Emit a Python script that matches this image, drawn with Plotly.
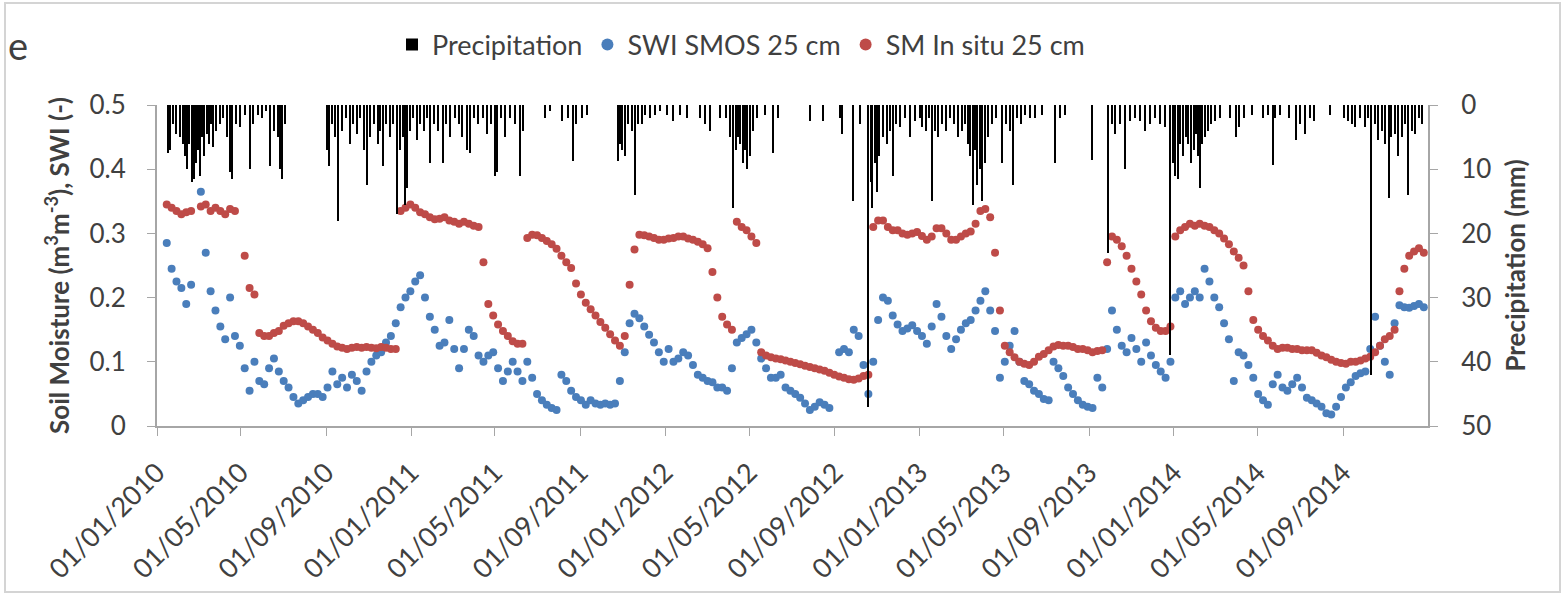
import pandas as pd
import plotly.graph_objects as go

# ---------------- data ----------------
series_start = "2010-01-01"   # weekly samples
sm_insitu_25cm = [
    None, None, .345, .34, .335, .33, .333, .335, None, .342,
    .345, .335, .34, .335, .33, .338, .335, None, .265, .215,
    .205, .145, .14, .14, .145, .148, .156, .16, .163, .163,
    .16, .155, .15, .145, .138, .133, .128, .124, .122, .12,
    .122, .123, .122, .123, .122, .121, .123, .122, .12, .12,
    .335, .34, .345, .34, .333, .33, .325, .322, .323, .325,
    .32, .318, .315, .318, .315, .312, .31, .255, .19, .172,
    .158, .148, .14, .132, .128, .128, .293, .298, .297, .293,
    .288, .283, .276, .265, .255, .246, .222, .205, .192, .182,
    .172, .162, .153, .143, .133, .125, .14, .22, .275, .298,
    .297, .295, .293, .29, .29, .292, .293, .295, .295, .292,
    .29, .287, .283, .277, .24, .2, .17, .158, .15, .318,
    .31, .305, .295, .285, .115, .11, .107, .105, .104, .102,
    .1, .098, .096, .094, .092, .09, .088, .086, .083, .08,
    .077, .075, .073, .072, .074, .078, .08, .31, .32, .32,
    .31, .305, .305, .3, .298, .3, .302, .296, .29, .295,
    .308, .308, .3, .29, .29, .295, .3, .303, .315, .335,
    .338, .325, .27, .18, .125, .115, .107, .1, .097, .095,
    .1, .108, .112, .118, .124, .126, .125, .125, .123, .12,
    .12, .118, .115, .117, .118, .255, .295, .29, .28, .265,
    .245, .225, .205, .18, .163, .153, .148, .148, .155, .295,
    .305, .31, .315, .312, .315, .312, .31, .305, .3, .292,
    .283, .272, .262, .25, .21, .165, .15, .14, .133, .125,
    .12, .122, .122, .12, .12, .118, .118, .118, .114, .11,
    .107, .103, .1, .098, .097, .1, .1, .102, .105, .108,
    .115, .125, .135, .14, .15, .21, .245, .265, .272, .277,
    .27,
]
swi_smos_25cm = [
    None, None, .285, .245, .225, .215, .19, .22, None, .365,
    .27, .21, .18, .155, .135, .2, .14, .125, .09, .055,
    .1, .07, .065, .09, .105, .085, .07, .06, .045, .035,
    .04, .045, .05, .05, .045, .06, .085, .065, .075, .06,
    .08, .07, .055, .085, .1, .11, .115, .13, .14, .16,
    .185, .2, .21, .225, .235, .2, .17, .15, .125, .13,
    .165, .12, .09, .12, .15, .14, .11, .1, .11, .115,
    .09, .07, .085, .1, .085, .07, .1, .075, .05, .04,
    .033, .028, .025, .08, .07, .055, .045, .04, .033, .04,
    .035, .033, .035, .033, .035, .07, .115, .16, .175, .168,
    .155, .142, .13, .115, .1, .12, .1, .105, .115, .11,
    .095, .08, .075, .07, .068, .06, .06, .055, .09, .13,
    .137, .143, .15, .13, .105, .09, .075, .075, .08, .06,
    .055, .05, .044, .035, .025, .03, .037, .033, .028, None,
    .115, .12, .115, .15, .14, .095, .05, .1, .165, .2,
    .195, .172, .158, .148, .152, .157, .148, .14, .128, .155,
    .19, .17, .14, .12, .135, .15, .16, .165, .18, .195,
    .21, .18, .148, .075, .1, .125, .148, .1, .07, .065,
    .055, .05, .042, .04, .1, .09, .078, .06, .05, .04,
    .033, .03, .028, .075, .06, .12, .18, .15, .125, .115,
    .137, .12, .1, .13, .11, .095, .085, .075, .1, .2,
    .21, .19, .2, .21, .2, .245, .225, .2, .185, .16,
    .135, .07, .115, .11, .095, .075, .05, .04, .033, .065,
    .08, .06, .055, .065, .075, .06, .044, .04, .035, .03,
    .02, .018, .03, .045, .06, .068, .078, .082, .085, .12,
    .17, .125, .1, .08, .16, .188, .185, .184, .187, .19,
    .185,
]
# precipitation events: day offset since 2010-01-01, depth in mm
precip_day = [
    16, 19, 23, 27, 33, 37, 40, 43, 46, 50, 53, 56, 59, 62, 65, 68, 72, 75, 78, 80,
    85, 91, 95, 101, 105, 108, 113, 119, 126, 134, 138, 145, 151, 157, 162, 168, 174, 177, 180, 184,
    244, 247, 251, 256, 260, 266, 272, 277, 282, 287, 292, 297, 302, 306, 312, 317, 320, 325, 329, 335,
    339, 345, 349, 353, 356, 359, 363, 368, 374, 378, 384, 388, 392, 398, 404, 411, 415, 421, 428, 434,
    438, 445, 450, 455, 461, 468, 474, 480, 486, 488, 494, 500, 507, 514, 521, 526,
    557, 565, 582, 590, 598, 602, 611, 618, 662, 665, 668, 672, 677, 682, 687, 691, 697, 701, 708, 715,
    723, 733, 741, 751, 761, 780, 787, 794, 809,
    817, 823, 827, 832, 835, 838, 842, 845, 848, 852, 856, 862, 873, 885, 892, 938, 957, 981, 984, 1000,
    1010, 1021, 1026, 1028, 1031, 1034, 1038, 1043, 1049, 1053, 1057, 1062, 1067, 1075, 1082, 1089,
    1096, 1099, 1105, 1109, 1113, 1118, 1122, 1128, 1133, 1139, 1145, 1151, 1156, 1161, 1165, 1168, 1172, 1175, 1178, 1182,
    1185, 1190, 1194, 1200, 1205, 1214, 1220, 1225, 1230, 1235, 1241, 1247, 1254, 1261, 1271, 1290, 1297, 1304, 1343, 1366,
    1372, 1376, 1383, 1391, 1398, 1405, 1412, 1419, 1427, 1434, 1441, 1448, 1455, 1460, 1463,
    1467, 1470, 1474, 1479, 1481, 1486, 1490, 1493, 1496, 1499, 1501, 1506, 1510, 1514, 1520, 1527, 1542, 1551, 1555, 1562,
    1573, 1589, 1597, 1603, 1607, 1613, 1627, 1636, 1642, 1649, 1656, 1663, 1685, 1706, 1711, 1717, 1722, 1729, 1736, 1740,
    1744, 1750, 1755, 1760, 1764, 1770, 1773, 1779, 1783, 1789, 1793, 1798, 1803, 1807, 1813, 1817,
]
precip_mm = [
    7.5, 7, 3, 4.5, 5, 6, 8, 10, 6, 12, 11.5, 9, 7, 11, 5, 8, 4.5, 6, 3, 6.5,
    4, 3, 2, 5, 10.5, 11.5, 3, 3.5, 1.5, 10, 3, 1.5, 2, 1, 9.5, 4, 5, 10, 11.5, 3,
    7, 9.5, 3, 5, 18, 4, 2, 6, 3, 4.5, 2, 7, 12.5, 5, 3, 6, 4, 9.5, 3, 5,
    3, 17, 7, 5, 15.5, 13, 4, 2, 5.5, 3, 4, 2, 9, 3, 4, 9, 3, 5, 2, 3,
    5, 7, 7.5, 2, 3, 2, 4.5, 3, 11, 10.5, 2, 5, 2, 3, 11, 4,
    2, 1, 2.5, 2, 8.7, 3, 2, 1.5, 8.7, 6, 7, 8, 3, 4, 14, 3, 3, 1.5, 2, 1.5,
    1, 1.5, 2.5, 1.5, 2, 2, 3, 4, 2,
    2, 5, 16, 7, 5, 6, 9, 7, 10, 8, 4, 2, 1.5, 7.5, 2, 2.5, 2.5, 2, 4.5, 15,
    3, 47, 12, 16, 9, 13.5, 8, 5, 6, 4, 11, 3, 3.5, 2, 5, 2.5,
    2, 3.5, 4, 2, 15, 4, 5, 3, 4, 2, 3, 5, 4, 3, 6, 8, 15.5, 7, 12.5, 10,
    15, 9, 5, 3, 2, 9, 3, 4, 12.5, 2, 3, 1.5, 2, 2, 1.5, 9, 2, 1.5, 8.5, 23,
    3, 4.5, 3, 10, 2.5, 2, 2.5, 4, 3, 2, 3, 3.5, 39, 9, 11,
    11.5, 6, 8, 5, 6, 9, 7, 4.5, 8, 13, 6, 5, 4, 3, 2.5, 2, 2, 5, 3.5, 2,
    1.5, 2, 1.5, 9.3, 2, 1.5, 2, 5.5, 3, 4.5, 2, 2.5, 1.5, 2, 2.5, 3, 3.5, 2, 3.5, 2,
    42, 3, 5.5, 4, 6, 14.5, 5, 4.5, 8, 5, 3, 14, 4, 4.5, 2, 3,
]
x_tick_dates = pd.date_range("2010-01-01", "2014-09-01", freq="4MS")
sm_ticks = [0, 0.1, 0.2, 0.3, 0.4, 0.5]
precip_ticks = [0, 10, 20, 30, 40, 50]

# ---------------- build ----------------
weeks = pd.date_range(series_start, periods=len(sm_insitu_25cm), freq="7D")
weeks_b = pd.date_range(series_start, periods=len(swi_smos_25cm), freq="7D")
p_dates = pd.Timestamp(series_start) + pd.to_timedelta(precip_day, unit="D")

BLUE = "#4a7ebb"
RED = "#be4b48"
AXIS = "#a6a6a6"
TXT = "#404040"
FONT = "Lato"

fig = go.Figure()
fig.add_trace(go.Bar(
    x=p_dates, y=precip_mm, name="Precipitation", yaxis="y2",
    marker=dict(color="black", line=dict(width=0)),
    width=1.8 * 86400000,
))
fig.add_trace(go.Scatter(
    x=weeks_b, y=swi_smos_25cm, name="SWI SMOS 25 cm", mode="markers",
    marker=dict(color=BLUE, size=8),
))
fig.add_trace(go.Scatter(
    x=weeks, y=sm_insitu_25cm, name="SM In situ 25 cm", mode="markers",
    marker=dict(color=RED, size=8),
))

W, H = 1564, 605
L, R, T, B = 157, 136, 105, 179
pw, ph = W - L - R, H - T - B

def px(x):
    return (x - L) / pw

def py(y):
    return (H - B - y) / ph

fig.update_layout(
    width=W, height=H,
    margin=dict(l=L, r=R, t=T, b=B, autoexpand=False),
    paper_bgcolor="white", plot_bgcolor="white",
    font=dict(family=FONT, color=TXT),
    bargap=0,
    showlegend=True,
    legend=dict(
        orientation="h", x=px(392), xanchor="left", y=py(45), yanchor="middle",
        font=dict(size=27, color="#404040"), bgcolor="rgba(0,0,0,0)",
        traceorder="normal", itemsizing="constant",
    ),
    xaxis=dict(
        type="date", range=["2010-01-01", "2015-01-01"],
        tickvals=list(x_tick_dates), tickformat="%d/%m/%Y", tickangle=-45,
        tickfont=dict(size=27, color=TXT), ticks="outside", ticklen=8,
        tickcolor=AXIS, showline=True, linecolor=AXIS, linewidth=2,
        showgrid=False, zeroline=False, ticklabelstandoff=10,
    ),
    yaxis=dict(
        range=[0, 0.5], tickvals=sm_ticks, ticktext=[f"{v:g}" for v in sm_ticks],
        tickfont=dict(size=26, color=TXT), ticks="outside", ticklen=8,
        tickcolor=AXIS, showline=True, linecolor=AXIS, linewidth=2,
        showgrid=False, zeroline=False, ticklabelstandoff=16,
        title=dict(text="Soil Moisture (m<sup>3</sup>m<sup>-3</sup>), SWI (-)",
                   font=dict(size=26, color="#404040", weight="bold"), standoff=12),
    ),
    yaxis2=dict(
        overlaying="y", side="right", range=[50, 0], tickvals=precip_ticks,
        tickfont=dict(size=26, color=TXT), ticks="outside", ticklen=8,
        tickcolor=AXIS, showline=True, linecolor=AXIS, linewidth=2,
        showgrid=False, zeroline=False, ticklabelstandoff=18,
        title=dict(text="Precipitation (mm)",
                   font=dict(size=26, color="#404040", weight="bold"), standoff=16),
    ),
    annotations=[dict(
        text="e", xref="paper", yref="paper", x=px(6), y=py(45),
        xanchor="left", yanchor="middle", showarrow=False,
        font=dict(size=38, color="#404040", family=FONT),
    )],
    shapes=[dict(
        type="rect", xref="paper", yref="paper",
        x0=px(5), x1=px(1560), y0=py(592), y1=py(3),
        line=dict(color="#d4d4d4", width=2), fillcolor="rgba(0,0,0,0)", layer="below",
    )],
)

fig.write_html("out.html")
